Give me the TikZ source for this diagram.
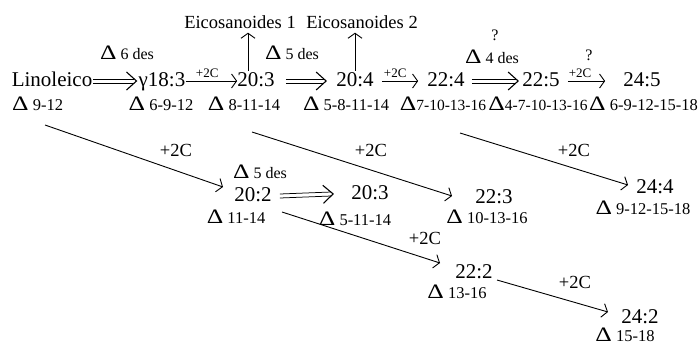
\documentclass[tikz,border=0pt]{standalone}
\usepackage{fontspec}
\setmainfont{Liberation Serif}
\usepackage{graphicx}
\usetikzlibrary{arrows.meta,decorations.markings}
\newcommand\Dt{\scalebox{1.35}[1.08]{\fontsize{19}{19}\selectfont Δ}}
\tikzset{
  mn/.style={font=\fontsize{21}{21}\selectfont, inner sep=0pt, text height=15pt, text depth=5pt},
  dl/.style={font=\fontsize{16.5}{16.5}\selectfont, inner sep=0pt},
  dlc/.style={font=\fontsize{15.5}{15.5}\selectfont, inner sep=0pt},
  ds/.style={font=\fontsize{16}{16}\selectfont, inner sep=0pt},
  sm/.style={font=\fontsize{13}{13}\selectfont, inner sep=0pt},
  lb/.style={font=\fontsize{18.5}{18.5}\selectfont, inner sep=0pt},
  sar/.style={line width=0.9pt, -{Straight Barb[length=5pt,width=14pt,line width=0.9pt]}},
  dar/.style={draw=none,
    preaction={draw, line width=0.75pt, transform canvas={yshift=2pt}},
    preaction={draw, line width=0.75pt, transform canvas={yshift=-2pt}},
    postaction={decorate, decoration={markings, mark=at position 1 with
      {\draw[line width=1.1pt, line join=miter] (-8pt,-9pt) -- (2pt,0pt) -- (-8pt,9pt);}}}},
}
\begin{document}
\begin{tikzpicture}[x=1pt,y=-1pt]
\useasboundingbox (0,0) rectangle (700,346);
% top labels
\node[lb] (eic1) at (240,22) {Eicosanoides 1};
\node[lb] (eic2) at (362,22) {Eicosanoides 2};
\node[ds] (des6) at (127,53) {\Dt\ 6 des};
\node[ds] (des5a) at (292,53) {\Dt\ 5 des};
\node[ds] (q1) at (495,35) {?};
\node[ds] (des4) at (492,57) {\Dt\ 4 des};
\node[ds] (q2) at (589,55) {?};
% main row
\node[mn] (lin) at (52,81) {Linoleico};
\node[mn] (g183) at (162,81) {γ18:3};
\node[mn] (n203) at (256,81) {20:3};
\node[mn] (n204) at (355,81) {20:4};
\node[mn] (n224) at (446,81) {22:4};
\node[mn] (n225) at (541,81) {22:5};
\node[mn] (n245) at (642,81) {24:5};
% delta row
\node[dl,anchor=west] (d912) at (12,104) {\Dt\ 9-12};
\node[dl] (d6912) at (161,104) {\Dt\ 6-9-12};
\node[dl] (d81114) at (244,104) {\Dt\ 8-11-14};
\node[dl] (d581114) at (346,104) {\Dt\ 5-8-11-14};
\node[dlc] (d7101316) at (443,104) {\Dt 7-10-13-16};
\node[dlc] (d47101316) at (538,104) {\Dt 4-7-10-13-16};
\node[dl,anchor=east] (d69121518) at (698,104) {\Dt\ 6-9-12-15-18};
% main row arrows
\draw[dar] ([xshift=1pt]lin.east) -- ([xshift=-4pt]g183.west);
\draw[sar] (g183.east) -- node[sm,pos=0.42,above=3pt] (c1) {+2C} (n203.west);
\draw[dar] ([xshift=11pt]n203.east) -- ([xshift=-12pt]n204.west);
\draw[sar, shorten <=8pt, shorten >=9pt] (n204.east) -- node[sm,pos=0.4,above=3pt] (c2) {+2C} (n224.west);
\draw[dar] ([xshift=7pt]n224.east) -- ([xshift=-6pt]n225.west);
\draw[sar, shorten <=8pt, shorten >=18pt] (n225.east) -- node[sm,pos=0.32,above=3pt] (c3) {+2C} (n245.west);
% up arrows
\draw[sar] ([xshift=-8pt]n203.north) -- ([xshift=8pt,yshift=-4pt]eic1.south);
\draw[sar] (n204.north) -- ([xshift=-7pt,yshift=-4pt]eic2.south);
% lower nodes
\node[ds] (des5b) at (260,172) {\Dt\ 5 des};
\node[mn] (n202) at (253,196) {20:2};
\node[dl] (d1114) at (236,217) {\Dt\ 11-14};
\node[mn] (n203b) at (370,194) {20:3};
\node[dl] (d51114) at (355,219) {\Dt\ 5-11-14};
\node[mn] (n223) at (494,198) {22:3};
\node[dl] (d101316) at (487,217) {\Dt\ 10-13-16};
\node[mn] (n244) at (655,188) {24:4};
\node[dl] (d9121518) at (643,208) {\Dt\ 9-12-15-18};
\node[mn] (n222) at (474,273) {22:2};
\node[dl] (d1316) at (457,292) {\Dt\ 13-16};
\node[mn] (n242) at (640,318) {24:2};
\node[dl] (d1518) at (625,335) {\Dt\ 15-18};
% free ends
\coordinate (aS) at (45,125);   \coordinate (aE) at (223,187);
\coordinate (bS) at (252,132);  \coordinate (bE) at (452,196);
\coordinate (cS) at (460,133);  \coordinate (cE) at (628,185);
\coordinate (dS) at (282,212);  \coordinate (dE) at (440,263);
\coordinate (eS) at (497,280);  \coordinate (eE) at (608,312);
\draw[sar] (aS) -- (aE);
\draw[sar] (bS) -- (bE);
\draw[sar] (cS) -- (cE);
\draw[sar] (dS) -- (dE);
\draw[sar] (eS) -- (eE);
\node[lb] (cA) at (176,150) {+2C};
\node[lb] (cB) at (371,150) {+2C};
\node[lb] (cC) at (574,150) {+2C};
\node[lb] (cD) at (425,238) {+2C};
\node[lb] (cE2) at (575,282) {+2C};
\draw[dar] ([xshift=8pt]n202.east) -- ([xshift=-20pt]n203b.west);
\end{tikzpicture}
\end{document}
